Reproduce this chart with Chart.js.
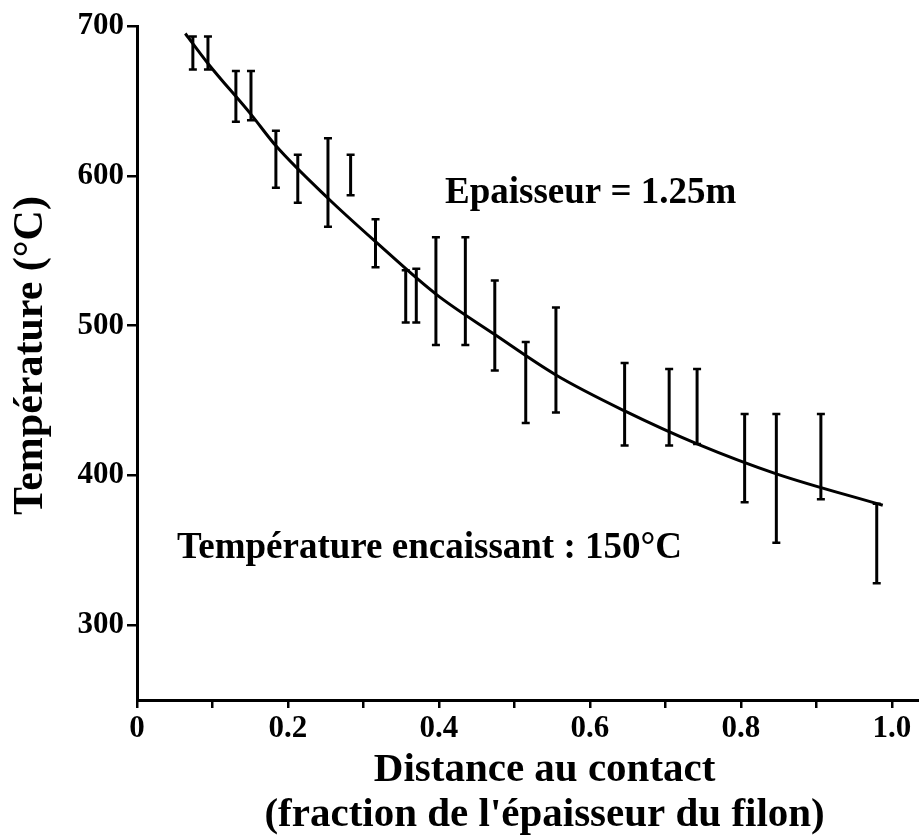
<!DOCTYPE html>
<html>
<head>
<meta charset="utf-8">
<script src="https://cdn.jsdelivr.net/npm/chart.js@4.4.0/dist/chart.umd.min.js"></script>
<style>
    html, body { margin: 0; padding: 0; background: #fff; }
</style>
</head>
<body>
<canvas id="chart" width="919" height="836"></canvas>
<script>
// measured points (fraction of the dyke thickness) with their error ranges in °C
const errX = [0.074, 0.094, 0.131, 0.151, 0.184, 0.213, 0.253, 0.283, 0.316, 0.356, 0.370, 0.396,
              0.435, 0.474, 0.515, 0.555, 0.646, 0.705, 0.742, 0.805, 0.847, 0.906, 0.980];
const errHigh = [693, 693, 670, 670, 630, 614, 625, 614, 571, 537, 538, 559,
                 559, 530, 489, 512, 475, 471, 471, 441, 441, 441, 381];
const errLow = [671, 671, 636, 637, 592, 582, 566, 587, 539, 502, 502, 487,
                487, 470, 435, 442, 420, 420, 421, 382, 355, 384, 328];

// model curve
const curveX = [0.064, 0.094, 0.151, 0.184, 0.253, 0.316, 0.396, 0.474, 0.555, 0.646, 0.742, 0.847, 0.988];
const curveT = [695, 675, 641, 620, 585, 556, 521, 494, 467, 443, 421, 401, 380];

const xTickLabels = ['0', '0.2', '0.4', '0.6', '0.8', '1.0'];
const yTicks = [300, 400, 500, 600, 700];

const serif = '"Liberation Serif", "Times New Roman", serif';

const errorBars = {
    id: 'errorBars',
    afterDatasetsDraw(chart) {
        const { ctx, scales: { x, y } } = chart;
        ctx.save();
        ctx.strokeStyle = '#000';
        for (let i = 0; i < errX.length; i++) {
            const px = x.getPixelForValue(errX[i]);
            const top = y.getPixelForValue(errHigh[i]);
            const bot = y.getPixelForValue(errLow[i]);
            ctx.lineWidth = 3;
            ctx.beginPath();
            ctx.moveTo(px, top);
            ctx.lineTo(px, bot);
            ctx.stroke();
            ctx.lineWidth = 2.5;
            ctx.beginPath();
            ctx.moveTo(px - 4, top);
            ctx.lineTo(px + 4, top);
            ctx.moveTo(px - 4, bot);
            ctx.lineTo(px + 4, bot);
            ctx.stroke();
        }
        ctx.restore();
    }
};

// annotations and axis titles
const notes = {
    id: 'notes',
    afterDraw(chart) {
        const { ctx, scales: { x, y } } = chart;
        ctx.save();
        ctx.fillStyle = '#000';
        ctx.font = 'bold 37px ' + serif;
        ctx.textBaseline = 'alphabetic';
        ctx.textAlign = 'left';
        ctx.fillText('Epaisseur = 1.25m', x.getPixelForValue(0.408), y.getPixelForValue(582));
        ctx.fillText('Température encaissant : 150°C', x.getPixelForValue(0.053), y.getPixelForValue(345));

        ctx.font = 'bold 41px ' + serif;
        ctx.textAlign = 'center';
        const cx = x.getPixelForValue(0.54);
        ctx.fillText('Distance au contact', cx, 781);
        ctx.fillText("(fraction de l'épaisseur du filon)", cx, 826);

        ctx.font = 'bold 42px ' + serif;
        ctx.translate(42, y.getPixelForValue(480));
        ctx.rotate(-Math.PI / 2);
        ctx.fillText('Température (°C)', 0, 0);
        ctx.restore();
    }
};

new Chart(document.getElementById('chart').getContext('2d'), {
    type: 'scatter',
    data: {
        datasets: [
            {
                label: 'modèle',
                type: 'line',
                data: curveX.map((v, i) => ({ x: v, y: curveT[i] })),
                borderColor: '#000',
                borderWidth: 3,
                pointRadius: 0,
                fill: false,
                cubicInterpolationMode: 'monotone',
            },
        ],
    },
    options: {
        responsive: false,
        animation: false,
        layout: { padding: { top: 26, right: 0, left: 0, bottom: 0 } },
        plugins: {
            legend: { display: false },
            tooltip: { enabled: false },
        },
        scales: {
            x: {
                type: 'linear',
                min: 0,
                max: 1.036,
                afterFit: (s) => { s.height = 136; },
                border: { display: true, color: '#000', width: 3 },
                grid: { drawOnChartArea: false, drawTicks: true, tickLength: 8, color: '#000', lineWidth: 2.5 },
                ticks: {
                    stepSize: 0.1,
                    includeBounds: false,
                    autoSkip: false,
                    maxRotation: 0,
                    padding: 2,
                    color: '#000',
                    font: { family: serif, size: 31, weight: 'bold' },
                    callback: (v) => {
                        const k = Math.round(v * 10);
                        return k % 2 === 0 ? xTickLabels[k / 2] : '';
                    },
                },
            },
            y: {
                min: 250,
                max: 700,
                afterFit: (s) => { s.width = 137; },
                afterBuildTicks: (s) => { s.ticks = yTicks.map((v) => ({ value: v })); },
                border: { display: true, color: '#000', width: 3 },
                grid: { drawOnChartArea: false, drawTicks: true, tickLength: 10, color: '#000', lineWidth: 2.5 },
                ticks: {
                    padding: 3,
                    color: '#000',
                    font: { family: serif, size: 31, weight: 'bold' },
                },
            },
        },
    },
    plugins: [errorBars, notes],
});
</script>
</body>
</html>
